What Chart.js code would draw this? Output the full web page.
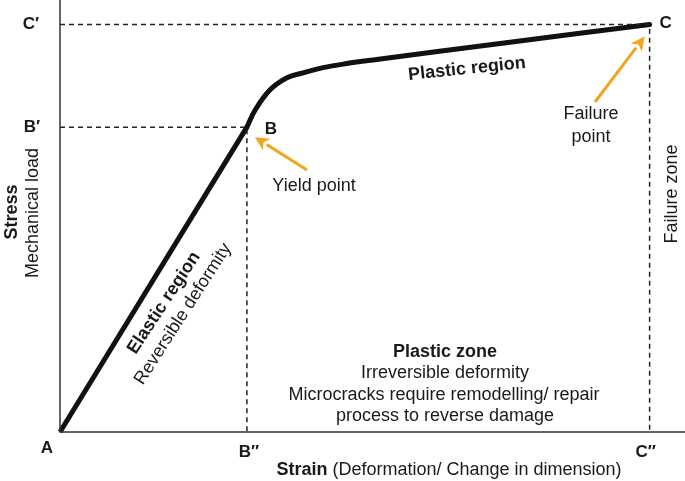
<!DOCTYPE html>
<html>
<head>
<meta charset="utf-8">
<script src="https://cdn.jsdelivr.net/npm/chart.js@4/dist/chart.umd.min.js"></script>
<style>
  html, body { margin: 0; padding: 0; background: #fff; }
  #wrap { width: 685px; height: 481px; }
</style>
</head>
<body>
<div id="wrap"><canvas id="ssChart" width="685" height="481"></canvas></div>
<script>
// key points (strain, stress) in arbitrary units
const pointA = { x: 0, y: 0 };
const pointB = { x: 3.17, y: 7.48 };
const pointC = { x: 10, y: 10 };

// traced elastic + plastic curve
const elasticStrain = [0, 3.17];
const elasticStress = [0, 7.48];
const plasticStrain = [3.17, 3.31, 3.56, 3.85, 4.12, 4.46, 4.86, 5.37, 7.5, 10];
const plasticStress = [7.48, 7.90, 8.39, 8.69, 8.81, 8.94, 9.04, 9.14, 9.54, 10];

const xTickLabels = ['A', 'B″', 'C″'];
const yTickLabels = ['B′', 'C′'];

const axisMax = 10.6;
const orange = '#f2a51f';

function toPts(xs, ys) {
    return xs.map((x, i) => ({ x: x, y: ys[i] }));
}

const guideB = [{ x: 0, y: pointB.y }, { x: pointB.x, y: pointB.y }, { x: pointB.x, y: 0 }];
const guideC = [{ x: 0, y: pointC.y }, { x: pointC.x, y: pointC.y }, { x: pointC.x, y: 0 }];

const annotations = {
    id: 'annotations',
    afterDraw(chart) {
        const ctx = chart.ctx;
        const xs = chart.scales.x, ys = chart.scales.y;
        const area = chart.chartArea;
        const px = v => xs.getPixelForValue(v);
        const py = v => ys.getPixelForValue(v);
        const F = 'Liberation Sans, Arial, Helvetica, sans-serif';

        ctx.save();
        // axes
        ctx.strokeStyle = '#333';
        ctx.lineWidth = 1.5;
        ctx.beginPath();
        ctx.moveTo(area.left, area.top);
        ctx.lineTo(area.left, area.bottom);
        ctx.lineTo(area.right, area.bottom);
        ctx.stroke();

        ctx.fillStyle = '#1a1a1a';
        ctx.textAlign = 'center';
        ctx.textBaseline = 'middle';

        // tick-like letters
        ctx.font = 'bold 17px ' + F;
        const xt = [pointA.x, pointB.x, pointC.x];
        ctx.fillText(xTickLabels[0], px(xt[0]) - 13, area.bottom + 16);
        ctx.fillText(xTickLabels[1], px(xt[1]) + 2, area.bottom + 20);
        ctx.fillText(xTickLabels[2], px(xt[2]) - 4, area.bottom + 20);
        ctx.fillText(yTickLabels[0], 32, py(pointB.y));
        ctx.fillText(yTickLabels[1], 31, py(pointC.y));
        ctx.fillText('B', px(pointB.x) + 24, py(pointB.y) + 2);
        ctx.fillText('C', px(pointC.x) + 16, py(pointC.y) - 1);

        // x axis title
        ctx.textAlign = 'left';
        ctx.font = 'bold 18px ' + F;
        const t1 = 'Strain';
        const t2 = ' (Deformation/ Change in dimension)';
        const w1 = ctx.measureText(t1).width;
        ctx.font = '18px ' + F;
        const w2 = ctx.measureText(t2).width;
        const sx = 449 - (w1 + w2) / 2;
        ctx.font = 'bold 18px ' + F;
        ctx.fillText(t1, sx, 470);
        ctx.font = '18px ' + F;
        ctx.fillText(t2, sx + w1, 470);

        // y axis title
        ctx.textAlign = 'center';
        ctx.save();
        ctx.translate(12, 212);
        ctx.rotate(-Math.PI / 2);
        ctx.font = 'bold 18px ' + F;
        ctx.fillText('Stress', 0, 0);
        ctx.restore();
        ctx.save();
        ctx.translate(33, 213);
        ctx.rotate(-Math.PI / 2);
        ctx.font = '18px ' + F;
        ctx.fillText('Mechanical load', 0, 0);
        ctx.restore();

        // failure zone
        ctx.save();
        ctx.translate(672, 194);
        ctx.rotate(-Math.PI / 2);
        ctx.font = '18px ' + F;
        ctx.fillText('Failure zone', 0, 0);
        ctx.restore();

        // plastic region label
        ctx.save();
        ctx.translate(467, 69);
        ctx.rotate(-0.105);
        ctx.font = 'bold 18px ' + F;
        ctx.fillText('Plastic region', 0, 0);
        ctx.restore();

        // elastic region labels
        ctx.save();
        ctx.translate(164, 303);
        ctx.rotate(-0.99);
        ctx.font = 'bold 18px ' + F;
        ctx.fillText('Elastic region', 0, 0);
        ctx.restore();
        ctx.save();
        ctx.translate(183, 314);
        ctx.rotate(-1.0);
        ctx.font = '18px ' + F;
        ctx.fillText('Reversible deformity', 0, 0);
        ctx.restore();

        // plastic zone text block
        ctx.font = 'bold 18px ' + F;
        ctx.fillText('Plastic zone', 445, 352);
        ctx.font = '18px ' + F;
        ctx.fillText('Irreversible deformity', 445, 373);
        ctx.fillText('Microcracks require remodelling/ repair', 444, 395);
        ctx.fillText('process to reverse damage', 445, 416);

        // point labels
        ctx.fillText('Yield point', 314, 186);
        ctx.fillText('Failure', 591, 114);
        ctx.fillText('point', 591, 137);

        // orange arrows
        function arrow(x1, y1, x2, y2) {
            const a = Math.atan2(y2 - y1, x2 - x1);
            const hl = 14, hw = 7;
            const bx = x2 - hl * Math.cos(a), by = y2 - hl * Math.sin(a);
            ctx.strokeStyle = orange;
            ctx.fillStyle = orange;
            ctx.lineWidth = 3;
            ctx.beginPath();
            ctx.moveTo(x1, y1);
            ctx.lineTo(bx, by);
            ctx.stroke();
            ctx.beginPath();
            ctx.moveTo(x2, y2);
            ctx.lineTo(bx + hw * Math.sin(a), by - hw * Math.cos(a));
            ctx.lineTo(bx + 4 * Math.cos(a), by + 4 * Math.sin(a));
            ctx.lineTo(bx - hw * Math.sin(a), by + hw * Math.cos(a));
            ctx.closePath();
            ctx.fill();
        }
        arrow(307, 170, px(pointB.x) + 8, py(pointB.y) + 10);
        arrow(595, 102, px(pointC.x) - 5, py(pointC.y) + 12);
        ctx.restore();
    }
};

new Chart(document.getElementById('ssChart').getContext('2d'), {
    type: 'line',
    data: {
        datasets: [
            {
                label: 'B guide',
                data: guideB,
                borderColor: '#222',
                borderWidth: 1.5,
                borderDash: [5, 4],
                pointRadius: 0,
                tension: 0,
                clip: false
            },
            {
                label: 'C guide',
                data: guideC,
                borderColor: '#222',
                borderWidth: 1.5,
                borderDash: [5, 4],
                pointRadius: 0,
                tension: 0,
                clip: false
            },
            {
                label: 'Elastic',
                data: toPts(elasticStrain, elasticStress),
                borderColor: '#111',
                borderWidth: 5,
                pointRadius: 0,
                tension: 0,
                clip: false
            },
            {
                label: 'Plastic',
                data: toPts(plasticStrain, plasticStress),
                borderColor: '#111',
                borderWidth: 5,
                borderCapStyle: 'round',
                pointRadius: 0,
                tension: 0.4,
                clip: false
            }
        ]
    },
    options: {
        responsive: false,
        animation: false,
        layout: { padding: { left: 60, right: 0, top: 0, bottom: 49 } },
        plugins: {
            legend: { display: false },
            tooltip: { enabled: false }
        },
        scales: {
            x: { type: 'linear', min: 0, max: axisMax, display: false },
            y: { type: 'linear', min: 0, max: axisMax, display: false }
        }
    },
    plugins: [annotations]
});
</script>
</body>
</html>
